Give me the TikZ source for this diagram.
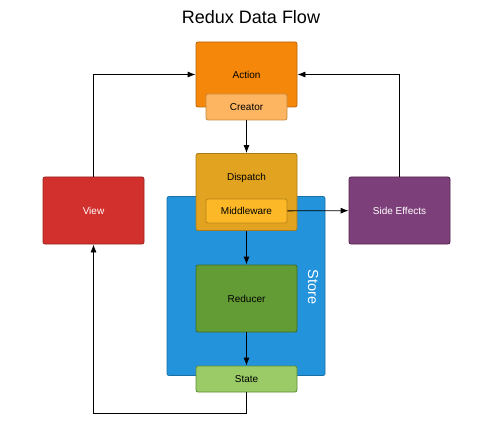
\documentclass[tikz,border=0pt]{standalone}
\usepackage{fontspec}
\setmainfont{Liberation Sans}
\usetikzlibrary{positioning}
\usetikzlibrary{arrows.meta}

\definecolor{actionfill}{HTML}{F5870A}
\definecolor{actiondraw}{HTML}{B8650A}
\definecolor{creatorfill}{HTML}{FDB561}
\definecolor{creatordraw}{HTML}{C88A3C}
\definecolor{dispatchfill}{HTML}{E1A320}
\definecolor{dispatchdraw}{HTML}{A87B18}
\definecolor{middlefill}{HTML}{FCB827}
\definecolor{middledraw}{HTML}{B88618}
\definecolor{storefill}{HTML}{2394DB}
\definecolor{storedraw}{HTML}{1A6FA5}
\definecolor{reducerfill}{HTML}{639C34}
\definecolor{reducerdraw}{HTML}{3F6A20}
\definecolor{statefill}{HTML}{9ACB66}
\definecolor{statedraw}{HTML}{5E8A3A}
\definecolor{viewfill}{HTML}{D1302C}
\definecolor{viewdraw}{HTML}{9A2220}
\definecolor{sidefill}{HTML}{7C3F7A}
\definecolor{sidedraw}{HTML}{55284F}

\tikzset{
    box/.style={draw, rectangle, rounded corners=2pt, line width=0.8pt, inner sep=0pt, font=\fontsize{10}{12}\selectfont},
    bigbox/.style={box, minimum width=101pt},
    smallbox/.style={box, minimum width=81pt},
    flow/.style={-{Latex[length=8pt,width=6pt]}, line width=0.8pt},
}

\begin{document}
\begin{tikzpicture}[x=1pt, y=-1pt]
        \useasboundingbox (0,0) rectangle (502,430);

        \node[font=\fontsize{18}{22}\selectfont] (title) at (251,17) {Redux Data Flow};

        % store sits behind dispatch and state
        \node[box, fill=storefill, draw=storedraw, minimum width=158pt, minimum height=179pt] (store) at (246,286) {};
        \node[text=white, rotate=-90, font=\fontsize{14.5}{16}\selectfont] (storetxt) at (313,287) {Store};

        \node[bigbox, fill=actionfill, draw=actiondraw, minimum height=65pt] (action) at (246.5,74.5) {Action};
        \node[smallbox, fill=creatorfill, draw=creatordraw, minimum height=26pt] (creator) at (246.5,107) {Creator};

        \node[bigbox, fill=dispatchfill, draw=dispatchdraw, minimum height=77pt] (dispatch) at (246.5,192) {};
        \node[font=\fontsize{10}{12}\selectfont] (dispatchtxt) at (246.5,178) {Dispatch};
        \node[smallbox, fill=middlefill, draw=middledraw, minimum height=24pt] (middle) at (246.5,211) {Middleware};

        \node[bigbox, fill=reducerfill, draw=reducerdraw, minimum height=67pt] (reducer) at (246.5,298.5) {Reducer};
        \node[bigbox, fill=statefill, draw=statedraw, minimum height=26pt] (state) at (246.5,379) {State};

        \node[bigbox, fill=viewfill, draw=viewdraw, text=white, minimum height=67pt] (view) at (93.5,210.5) {View};
        \node[bigbox, fill=sidefill, draw=sidedraw, text=white, minimum height=67pt] (side) at (399.5,210.5) {Side Effects};

        \coordinate (bottom) at (246.5,413);

        \draw[flow] (creator) -- (dispatch);
        \draw[flow] (dispatch) -- (reducer);
        \draw[flow] (reducer) -- (state);
        \draw[flow] (middle) -- (side);
        \draw[flow] (view.north) |- (action.west);
        \draw[flow] (side.north) |- (action.east);
        \draw[flow] (state.south) -- (bottom) -| (view.south);
    \end{tikzpicture}
\end{document}
